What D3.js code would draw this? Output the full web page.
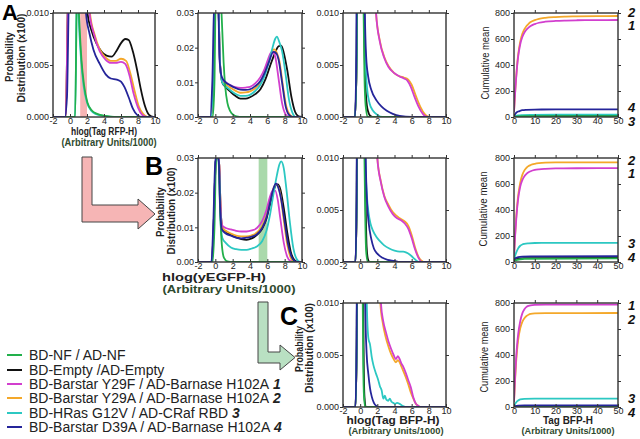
<!DOCTYPE html>
<html><head><meta charset="utf-8">
<script src="https://cdn.jsdelivr.net/npm/d3@7"></script>
<style>body{margin:0;background:#fff}svg{display:block}text{font-family:Arial,"Liberation Sans",sans-serif}</style>
</head><body><svg id="c" width="640" height="439"></svg>
<script>
// ---------- legend / categories ----------
const legendLabels = ["BD-NF / AD-NF", "BD-Empty /AD-Empty", "BD-Barstar Y29F / AD-Barnase H102A", "BD-Barstar Y29A / AD-Barnase H102A", "BD-HRas G12V / AD-CRaf RBD", "BD-Barstar D39A / AD-Barnase H102A"];
const legendTags = ["", "", "1", "2", "3", "4"];
const seriesKeys = ["green", "black", "magenta", "orange", "cyan", "navy"];

// ---------- tick labels ----------
const hlogTicks = [-2, 0, 2, 4, 6, 8, 10];
const prob010Ticks = [0, 0.005, 0.010];
const prob03Ticks = [0, 0.01, 0.02, 0.03];
const meanYTicks = [0, 200, 400, 600, 800];
const meanXTicks = [0, 10, 20, 30, 40, 50];
const bandRFP = [1.2, 2.0];
const bandGFP = [5.0, 6.0];

// ---------- A1: hlog(Tag RFP-H) ----------
const A1_green = [[-2,0],[0.6,0],[0.85,0.014],[1.05,0.0100],[1.35,0.0055],[1.65,0.0031],[2.05,0.0014],[2.6,0.0006],[3.2,0.0003],[4.2,0.0001],[5.2,0],[10,0]];
const A1_black = [[-2,0],[-0.5,0],[-0.2,0.012],[1.8,0.014],[2.05,0.0100],[2.5,0.0084],[3.1,0.0071],[3.7,0.0063],[4.3,0.0059],[4.9,0.0058],[5.5,0.0064],[6.0,0.0071],[6.5,0.0075],[6.9,0.0074],[7.4,0.0063],[7.9,0.0045],[8.3,0.0028],[8.8,0.0011],[9.3,0.0002],[9.8,0],[10,0]];
const A1_magenta = [[-2,0],[-0.5,0],[-0.2,0.012],[2.0,0.014],[2.3,0.0100],[2.8,0.0080],[3.5,0.0063],[4.2,0.0055],[4.8,0.0052],[5.4,0.0052],[6.0,0.0053],[6.5,0.0051],[7.0,0.0040],[7.5,0.0022],[8.0,0.0009],[8.5,0.0002],[9.0,0],[10,0]];
const A1_orange = [[-2,0],[-0.5,0],[-0.2,0.012],[2.0,0.014],[2.35,0.0100],[2.9,0.0079],[3.5,0.0065],[4.2,0.0057],[4.8,0.0054],[5.4,0.0054],[6.0,0.0056],[6.6,0.0054],[7.1,0.0042],[7.6,0.0025],[8.1,0.0010],[8.6,0.0003],[9.1,0],[10,0]];
const A1_cyan = [[-2,0],[0.6,0],[0.85,0.014],[1.0,0.0100],[1.3,0.0055],[1.6,0.0030],[2.0,0.0014],[2.5,0.0006],[3.0,0.0003],[4.0,0.0001],[5.0,0],[10,0]];
const A1_navy = [[-2,0],[-0.6,0],[-0.35,0.002],[-0.1,0.012],[1.6,0.014],[1.88,0.0100],[2.3,0.0080],[2.75,0.0065],[3.5,0.0051],[4.2,0.0041],[4.8,0.0037],[5.5,0.0036],[6.0,0.0034],[6.4,0.0029],[6.9,0.0019],[7.4,0.0008],[7.9,0.0002],[8.5,0],[10,0]];

// ---------- A2: hlog(yEGFP-H) ----------
const A2_green = [[-2,0],[-0.3,0],[-0.1,0.01],[0.05,0.035],[0.6,0.035],[0.75,0.028],[0.95,0.016],[1.15,0.0085],[1.4,0.0040],[1.7,0.0018],[2.1,0.0006],[2.6,0.0001],[3.0,0],[10,0]];
const A2_black = [[-2,0],[-0.5,0],[-0.25,0.01],[0,0.035],[0.3,0.035],[0.55,0.015],[0.8,0.0100],[1.2,0.0086],[1.7,0.0074],[2.3,0.0061],[2.9,0.0053],[3.5,0.0053],[4.0,0.0057],[4.6,0.0066],[5.2,0.0080],[5.8,0.0110],[6.3,0.0146],[6.8,0.0180],[7.3,0.0204],[7.6,0.0206],[7.9,0.0185],[8.3,0.0135],[8.8,0.0055],[9.2,0.0015],[9.6,0.0002],[10,0]];
const A2_magenta = [[-2,0],[-0.5,0],[-0.25,0.01],[0,0.035],[0.3,0.035],[0.55,0.015],[0.8,0.0108],[1.2,0.0100],[1.7,0.0092],[2.3,0.0086],[2.9,0.0084],[3.5,0.0085],[4.0,0.0087],[4.6,0.0097],[5.2,0.0115],[5.7,0.0140],[6.1,0.0168],[6.4,0.0185],[6.6,0.0188],[6.9,0.0175],[7.3,0.0110],[7.7,0.0040],[8.1,0.0008],[8.5,0],[10,0]];
const A2_orange = [[-2,0],[-0.5,0],[-0.25,0.01],[0,0.035],[0.3,0.035],[0.55,0.015],[0.8,0.0104],[1.2,0.0094],[1.7,0.0085],[2.3,0.0076],[2.9,0.0070],[3.5,0.0071],[4.0,0.0074],[4.6,0.0083],[5.2,0.0100],[5.7,0.0128],[6.2,0.0165],[6.6,0.0192],[6.8,0.0195],[7.1,0.0185],[7.4,0.0160],[7.8,0.0090],[8.2,0.0030],[8.6,0.0006],[9.0,0],[10,0]];
const A2_cyan = [[-2,0],[-0.5,0],[-0.25,0.01],[0,0.035],[0.3,0.035],[0.55,0.015],[0.8,0.0100],[1.2,0.0088],[1.7,0.0078],[2.3,0.0067],[2.9,0.0061],[3.5,0.0061],[4.0,0.0064],[4.6,0.0075],[5.2,0.0093],[5.7,0.0120],[6.2,0.0160],[6.6,0.0200],[6.9,0.0225],[7.1,0.0232],[7.4,0.0215],[7.7,0.0190],[8.1,0.0125],[8.5,0.0050],[8.9,0.0012],[9.3,0],[10,0]];
const A2_navy = [[-2,0],[-0.6,0],[-0.35,0.01],[-0.1,0.035],[0.3,0.035],[0.5,0.016],[0.75,0.0115],[1.2,0.0100],[1.7,0.0092],[2.3,0.0084],[2.9,0.0079],[3.5,0.0078],[4.0,0.0080],[4.6,0.0089],[5.2,0.0104],[5.7,0.0128],[6.2,0.0160],[6.7,0.0188],[7.0,0.0185],[7.3,0.0165],[7.7,0.0100],[8.1,0.0032],[8.5,0.0006],[8.9,0],[10,0]];

// ---------- A3: hlog(Tag BFP-H) ----------
const A3_green = [[-2,0],[-0.6,0],[-0.4,0.006],[-0.3,0.03],[0.25,0.03],[0.4,0.0100],[0.5,0.004],[0.65,0.001],[0.9,0],[10,0]];
const A3_black = [[-2,0],[-0.6,0],[-0.4,0.006],[-0.3,0.03],[0.3,0.03],[0.45,0.0100],[0.55,0.005],[0.7,0.0018],[0.9,0.0006],[1.2,0.0001],[1.6,0],[10,0]];
const A3_magenta = [[-2,0],[-0.6,0],[-0.4,0.006],[-0.3,0.03],[1.4,0.03],[1.85,0.0100],[2.3,0.0072],[2.8,0.0057],[3.3,0.0048],[4.0,0.0042],[4.6,0.0039],[5.1,0.0037],[5.5,0.0035],[5.9,0.0029],[6.3,0.0020],[6.8,0.0010],[7.3,0.0003],[7.8,0],[10,0]];
const A3_orange = [[-2,0],[-0.6,0],[-0.4,0.006],[-0.3,0.03],[1.4,0.03],[1.85,0.0100],[2.3,0.0073],[2.8,0.0058],[3.3,0.0049],[4.0,0.0042],[4.6,0.0039],[5.1,0.0038],[5.6,0.0036],[6.0,0.0031],[6.5,0.0020],[7.0,0.0010],[7.5,0.0003],[8.0,0],[10,0]];
const A3_cyan = [[-2,0],[-0.6,0],[-0.4,0.006],[-0.3,0.03],[0.35,0.03],[0.5,0.0100],[0.62,0.0055],[0.8,0.0028],[1.1,0.0013],[1.5,0.0006],[2.0,0.0002],[2.6,0],[10,0]];
const A3_navy = [[-2,0],[-0.6,0],[-0.45,0.006],[-0.35,0.03],[0.4,0.03],[0.55,0.0100],[0.7,0.0058],[0.93,0.0039],[1.3,0.0026],[1.9,0.0016],[2.5,0.0010],[3.1,0.0006],[3.8,0.0003],[4.6,0.0001],[6.0,0],[10,0]];

// ---------- A4: cumulative mean ----------
const A4_green = [[0,1],[2,4],[5,6],[50,6]];
const A4_black = [[0,1],[2,5],[5,7],[50,8]];
const A4_magenta = [[0,40],[0.5,175],[1,290],[1.5,390],[2,465],[3,560],[4,615],[5,650],[6,672],[7,688],[8,700],[10,715],[12,725],[15,733],[20,739],[25,742],[30,744],[40,745],[50,746]];
const A4_orange = [[0,40],[0.5,180],[1,300],[1.5,400],[2,480],[3,580],[4,640],[5,675],[6,700],[7,717],[8,730],[10,745],[12,755],[15,763],[20,769],[25,772],[30,774],[40,776],[50,777]];
const A4_cyan = [[0,2],[1,8],[2,12],[4,15],[8,17],[20,18],[50,18]];
const A4_navy = [[0,5],[0.5,20],[1,32],[2,42],[3,48],[4,52],[6,55],[10,57],[20,58],[50,58]];

// ---------- B2: hlog(yEGFP-H) ----------
const B2_green = [[-2,0],[-0.3,0],[-0.1,0.01],[0.1,0.03],[0.35,0.03],[0.55,0.015],[0.75,0.005],[1.0,0.0012],[1.4,0.0002],[2.0,0],[10,0]];
const B2_black = [[-2,0],[-0.4,0],[-0.2,0.01],[0.05,0.029],[0.25,0.031],[0.45,0.028],[0.6,0.016],[0.8,0.0100],[1.2,0.0088],[1.8,0.0078],[2.4,0.0071],[3.0,0.0066],[3.6,0.0064],[4.2,0.0068],[4.8,0.0078],[5.4,0.0096],[5.9,0.0125],[6.3,0.0165],[6.7,0.0205],[7.0,0.0222],[7.2,0.0224],[7.5,0.0210],[7.9,0.0155],[8.3,0.0085],[8.7,0.0030],[9.1,0.0006],[9.5,0],[10,0]];
const B2_magenta = [[-2,0],[-0.4,0],[-0.2,0.01],[0.05,0.029],[0.25,0.031],[0.45,0.028],[0.6,0.016],[0.8,0.0105],[1.2,0.0098],[1.8,0.0094],[2.4,0.0090],[3.0,0.0088],[3.6,0.0088],[4.2,0.0091],[4.8,0.0098],[5.4,0.0118],[5.9,0.0150],[6.3,0.0188],[6.6,0.0205],[6.9,0.0206],[7.2,0.0180],[7.5,0.0125],[7.9,0.0055],[8.3,0.0015],[8.7,0.0002],[9.1,0],[10,0]];
const B2_orange = [[-2,0],[-0.4,0],[-0.2,0.01],[0.05,0.029],[0.25,0.031],[0.45,0.028],[0.6,0.016],[0.8,0.0100],[1.2,0.0090],[1.8,0.0082],[2.4,0.0076],[3.0,0.0074],[3.6,0.0074],[4.2,0.0077],[4.8,0.0085],[5.4,0.0104],[5.9,0.0135],[6.3,0.0175],[6.7,0.0212],[7.0,0.0224],[7.2,0.0220],[7.5,0.0195],[7.9,0.0120],[8.3,0.0050],[8.7,0.0012],[9.1,0],[10,0]];
const B2_cyan = [[-2,0],[-0.4,0],[-0.2,0.01],[0.05,0.029],[0.25,0.031],[0.45,0.026],[0.6,0.012],[0.8,0.0070],[1.2,0.0055],[1.8,0.0042],[2.4,0.0037],[3.0,0.0035],[3.6,0.0035],[4.2,0.0039],[4.8,0.0045],[5.4,0.0060],[5.9,0.0090],[6.3,0.0135],[6.7,0.0195],[7.1,0.0250],[7.4,0.0282],[7.6,0.0290],[7.9,0.0270],[8.2,0.0210],[8.6,0.0115],[9.0,0.0040],[9.4,0.0008],[9.8,0],[10,0]];
const B2_navy = [[-2,0],[-0.45,0],[-0.25,0.01],[0.0,0.029],[0.2,0.031],[0.4,0.029],[0.55,0.016],[0.75,0.0095],[1.2,0.0082],[1.8,0.0076],[2.4,0.0070],[3.0,0.0068],[3.6,0.0070],[4.2,0.0073],[4.8,0.0080],[5.4,0.0098],[5.9,0.0128],[6.3,0.0170],[6.7,0.0212],[7.0,0.0226],[7.3,0.0212],[7.6,0.0180],[8.0,0.0115],[8.4,0.0050],[8.8,0.0015],[9.2,0.0002],[9.6,0],[10,0]];

// ---------- B3: hlog(Tag BFP-H) ----------
const B3_green = [[-2,0],[-0.55,0],[-0.4,0.006],[-0.3,0.03],[0.3,0.03],[0.5,0.0100],[0.6,0.004],[0.7,0.001],[0.9,0],[10,0]];
const B3_black = [[-2,0],[-0.55,0],[-0.4,0.006],[-0.3,0.03],[0.35,0.03],[0.55,0.0100],[0.65,0.005],[0.75,0.0015],[0.9,0.0003],[1.1,0],[10,0]];
const B3_magenta = [[-2,0],[-0.55,0],[-0.4,0.006],[-0.3,0.03],[1.6,0.03],[2.0,0.0100],[2.4,0.0077],[2.8,0.0063],[3.3,0.0053],[3.8,0.0046],[4.3,0.0042],[4.8,0.0040],[5.2,0.0037],[5.6,0.0032],[6.0,0.0023],[6.4,0.0012],[6.8,0.0004],[7.2,0],[10,0]];
const B3_orange = [[-2,0],[-0.55,0],[-0.4,0.006],[-0.3,0.03],[1.6,0.03],[2.0,0.0100],[2.4,0.0078],[2.8,0.0064],[3.3,0.0055],[3.8,0.0048],[4.3,0.0044],[4.8,0.0041],[5.2,0.0039],[5.6,0.0035],[6.0,0.0026],[6.4,0.0014],[6.8,0.0005],[7.2,0.0001],[7.5,0],[10,0]];
const B3_cyan = [[-2,0],[-0.55,0],[-0.4,0.006],[-0.3,0.03],[0.45,0.03],[0.6,0.0100],[0.8,0.0062],[1.0,0.0046],[1.2,0.0037],[1.5,0.0030],[1.9,0.0024],[2.3,0.0020],[2.8,0.0016],[3.4,0.0013],[4.0,0.0011],[4.6,0.0010],[5.0,0.0010],[5.4,0.0009],[5.8,0.0007],[6.2,0.0004],[6.6,0.0001],[7.0,0],[10,0]];
const B3_navy = [[-2,0],[-0.55,0],[-0.42,0.006],[-0.32,0.03],[0.45,0.03],[0.65,0.0100],[0.8,0.0058],[1.0,0.0037],[1.3,0.0022],[1.6,0.0013],[2.0,0.0008],[2.6,0.0004],[3.2,0.0002],[4.0,0.0001],[4.6,0],[10,0]];

// ---------- B4: cumulative mean ----------
const B4_green = [[0,10],[5,25],[50,28]];
const B4_black = [[0,15],[2,25],[5,30],[50,32]];
const B4_magenta = [[0,40],[0.5,190],[1,310],[1.5,410],[2,485],[3,580],[4,630],[5,660],[6,678],[7,690],[8,698],[10,708],[12,713],[15,717],[20,720],[30,721],[50,722]];
const B4_orange = [[0,40],[0.5,200],[1,330],[1.5,430],[2,510],[3,610],[4,670],[5,705],[6,725],[7,738],[8,746],[10,755],[12,760],[15,764],[20,766],[30,767],[50,767]];
const B4_cyan = [[0,20],[1,70],[2,105],[3,125],[4,135],[5,140],[7,144],[10,146],[20,147],[50,147]];
const B4_navy = [[0,20],[1,32],[2,38],[4,42],[8,44],[50,45]];

// ---------- C3: hlog(Tag BFP-H) ----------
const C3_green = [[-2,0],[-0.55,0],[-0.4,0.006],[-0.3,0.03],[0.2,0.03],[0.3,0.0100],[0.36,0.004],[0.45,0.001],[0.6,0],[10,0]];
const C3_black = [[-2,0],[-0.55,0],[-0.4,0.006],[-0.3,0.03],[0.25,0.03],[0.35,0.0100],[0.42,0.004],[0.5,0.001],[0.65,0],[10,0]];
const C3_magenta = [[-2,0],[-0.55,0],[-0.4,0.006],[-0.3,0.03],[2.0,0.03],[2.42,0.0100],[2.7,0.0082],[3.0,0.0072],[3.3,0.0063],[3.6,0.0056],[3.9,0.0050],[4.15,0.0046],[4.4,0.0049],[4.6,0.0046],[4.8,0.0042],[5.0,0.0039],[5.3,0.0033],[5.6,0.0026],[5.9,0.0019],[6.2,0.0009],[6.5,0.0003],[6.8,0.0001],[7.0,0],[10,0]];
const C3_orange = [[-2,0],[-0.55,0],[-0.4,0.006],[-0.3,0.03],[2.0,0.03],[2.35,0.0100],[2.65,0.0080],[2.95,0.0068],[3.3,0.0058],[3.6,0.0051],[3.9,0.0046],[4.15,0.0043],[4.4,0.0045],[4.6,0.0043],[4.8,0.0039],[5.0,0.0035],[5.3,0.0029],[5.6,0.0022],[5.9,0.0014],[6.2,0.0008],[6.5,0.0003],[6.8,0.0001],[7.0,0],[10,0]];
const C3_cyan = [[-2,0],[-0.55,0],[-0.4,0.006],[-0.3,0.03],[0.6,0.03],[0.77,0.0100],[0.96,0.0066],[1.15,0.0060],[1.35,0.0048],[1.55,0.0040],[1.85,0.0032],[2.1,0.0026],[2.3,0.0020],[2.5,0.0016],[2.7,0.0008],[2.88,0.0011],[3.05,0.0007],[3.27,0.0006],[3.45,0.0008],[3.65,0.0005],[3.85,0.0004],[4.05,0.0003],[4.3,0.0004],[4.6,0.0003],[5.0,0.0001],[5.4,0],[10,0]];
const C3_navy = [[-2,0],[-0.55,0],[-0.42,0.006],[-0.32,0.03],[0.4,0.03],[0.58,0.0100],[0.75,0.0052],[0.95,0.0032],[1.15,0.0018],[1.35,0.0010],[1.6,0.0004],[1.9,0.0001],[2.3,0],[10,0]];

// ---------- C4: cumulative mean ----------
const C4_green = [[0,2],[5,4],[50,4]];
const C4_black = [[0,2],[5,5],[50,5]];
const C4_magenta = [[0,40],[0.5,220],[1,370],[1.5,480],[2,560],[3,660],[4,720],[5,752],[6,770],[7,778],[8,782],[10,785],[15,787],[50,787]];
const C4_orange = [[0,40],[0.5,200],[1,340],[1.5,440],[2,515],[3,605],[4,655],[5,683],[6,700],[7,710],[8,716],[10,720],[15,722],[50,723]];
const C4_cyan = [[0,10],[1,35],[2,50],[3,58],[5,63],[10,65],[50,65]];
const C4_navy = [[0,5],[2,10],[5,12],[50,13]];

// ---------- styling ----------
const colors = {green:"#22b04b", black:"#111111", magenta:"#d23fce", orange:"#f4a82a", cyan:"#2cc8c2", navy:"#25259a"};
const drawOrder = ["black","orange","magenta","cyan","green","navy"];

const svg = d3.select("#c");
svg.append("rect").attr("width",640).attr("height",439).attr("fill","#fff");

const f3 = d3.format(".3f"), f2 = d3.format(".2f"), fd = d3.format("d");
const fx = d => (d < 0 ? "-" + (-d) : String(d));

let clipId = 0;
function panel(cfg) {
  const x = d3.scaleLinear().domain(cfg.xdom).range([cfg.x0, cfg.x1]);
  const y = d3.scaleLinear().domain(cfg.ydom).range([cfg.y1, cfg.y0]);
  const g = svg.append("g");
  const id = "clip" + (clipId++);
  g.append("clipPath").attr("id", id).append("rect")
    .attr("x", cfg.x0).attr("y", cfg.y0).attr("width", cfg.x1 - cfg.x0).attr("height", cfg.y1 - cfg.y0);
  const plot = g.append("g").attr("clip-path", `url(#${id})`);
  if (cfg.band) {
    plot.append("rect").attr("x", x(cfg.band[0])).attr("width", x(cfg.band[1]) - x(cfg.band[0]))
      .attr("y", cfg.y0).attr("height", cfg.y1 - cfg.y0).attr("fill", cfg.bandColor);
  }
  const line = d3.line().x(d => x(d[0])).y(d => y(d[1])).curve(d3.curveMonotoneX);
  drawOrder.forEach(k => {
    plot.append("path").attr("d", line(cfg.series[k])).attr("fill","none")
      .attr("stroke", colors[k]).attr("stroke-width", 1.8).attr("stroke-linejoin","round");
  });
  const styleAxis = sel => {
    sel.select(".domain").remove();
    sel.selectAll(".tick line").attr("stroke","#333").attr("stroke-width",1);
    sel.selectAll("text").attr("font-size","9px").attr("fill","#222").attr("font-family","Arial, 'Liberation Sans', sans-serif");
  };
  g.append("g").attr("transform",`translate(0,${cfg.y1})`)
    .call(d3.axisBottom(x).tickValues(cfg.xticks).tickFormat(fx).tickSize(-3).tickPadding(1)).call(styleAxis);
  g.append("g").attr("transform",`translate(0,${cfg.y0})`)
    .call(d3.axisTop(x).tickValues(cfg.xticks).tickFormat(() => "").tickSize(3)).call(styleAxis);
  g.append("g").attr("transform",`translate(${cfg.x0},0)`)
    .call(d3.axisLeft(y).tickValues(cfg.yticks).tickFormat(cfg.yfmt).tickSize(3).tickPadding(1)).call(styleAxis);
  g.append("g").attr("transform",`translate(${cfg.x1},0)`)
    .call(d3.axisRight(y).tickValues(cfg.yticks).tickFormat(() => "").tickSize(3)).call(styleAxis);
  g.append("rect").attr("x", cfg.x0).attr("y", cfg.y0).attr("width", cfg.x1 - cfg.x0).attr("height", cfg.y1 - cfg.y0)
    .attr("fill","none").attr("stroke","#333").attr("stroke-width",1.4);
}

const col = [[53,155],[198,302],[343,446],[514,618]];
const row = [[13,117],[158,262],[303,407]];
const S = {
  A1:{green:A1_green,black:A1_black,magenta:A1_magenta,orange:A1_orange,cyan:A1_cyan,navy:A1_navy},
  A2:{green:A2_green,black:A2_black,magenta:A2_magenta,orange:A2_orange,cyan:A2_cyan,navy:A2_navy},
  A3:{green:A3_green,black:A3_black,magenta:A3_magenta,orange:A3_orange,cyan:A3_cyan,navy:A3_navy},
  A4:{green:A4_green,black:A4_black,magenta:A4_magenta,orange:A4_orange,cyan:A4_cyan,navy:A4_navy},
  B2:{green:B2_green,black:B2_black,magenta:B2_magenta,orange:B2_orange,cyan:B2_cyan,navy:B2_navy},
  B3:{green:B3_green,black:B3_black,magenta:B3_magenta,orange:B3_orange,cyan:B3_cyan,navy:B3_navy},
  B4:{green:B4_green,black:B4_black,magenta:B4_magenta,orange:B4_orange,cyan:B4_cyan,navy:B4_navy},
  C3:{green:C3_green,black:C3_black,magenta:C3_magenta,orange:C3_orange,cyan:C3_cyan,navy:C3_navy},
  C4:{green:C4_green,black:C4_black,magenta:C4_magenta,orange:C4_orange,cyan:C4_cyan,navy:C4_navy}
};
const hl = (c, r, key, ydom, yt, yf, extra) => Object.assign({x0:col[c][0], x1:col[c][1], y0:row[r][0], y1:row[r][1], xdom:[-2,10], ydom, xticks:hlogTicks, yticks:yt, yfmt:yf, series:S[key]}, extra || {});
const cm = (r, key) => ({x0:col[3][0], x1:col[3][1], y0:row[r][0], y1:row[r][1], xdom:[0,50], ydom:[0,800], xticks:meanXTicks, yticks:meanYTicks, yfmt:fd, series:S[key]});

panel(hl(0,0,"A1",[0,0.010],prob010Ticks,f3,{band:bandRFP, bandColor:"#f7b4b4"}));
panel(hl(1,0,"A2",[0,0.03],prob03Ticks,f2));
panel(hl(2,0,"A3",[0,0.010],prob010Ticks,f3));
panel(cm(0,"A4"));
panel(hl(1,1,"B2",[0,0.03],prob03Ticks,f2,{band:bandGFP, bandColor:"#aad9ab"}));
panel(hl(2,1,"B3",[0,0.010],prob010Ticks,f3));
panel(cm(1,"B4"));
panel(hl(2,2,"C3",[0,0.010],prob010Ticks,f3));
panel(cm(2,"C4"));

// ---------- titles ----------
function htext(txt, cx, by, len, size, weight, fill) {
  svg.append("text").attr("x", cx).attr("y", by).attr("text-anchor","middle")
    .attr("font-size", size + "px").attr("font-weight", weight).attr("fill", fill)
    .attr("textLength", len).attr("lengthAdjust","spacingAndGlyphs").text(txt);
}
function vtext(txt, bx, cy, len, size, weight, fill) {
  svg.append("text").attr("transform", `translate(${bx},${cy}) rotate(-90)`).attr("text-anchor","middle")
    .attr("font-size", size + "px").attr("font-weight", weight).attr("fill", fill)
    .attr("textLength", len).attr("lengthAdjust","spacingAndGlyphs").text(txt);
}
const tc = "#222", uc = "#2e4a2e";
htext("hlog(Tag RFP-H)", 104, 135, 66, 10, "bold", tc);
htext("(Arbitrary Units/1000)", 109, 146, 95, 10, "bold", uc);
vtext("Probability", 13, 57, 50, 10, "bold", tc);
vtext("Distribution (x100)", 25, 58, 89, 10, "bold", tc);

htext("hlog(yEGFP-H)", 214, 281, 104, 11, "bold", tc);
htext("(Arbitrary Units/1000)", 229, 293, 133, 11, "bold", uc);
vtext("Probability", 164, 212, 50, 10, "bold", tc);
vtext("Distribution (x100)", 175, 211, 87, 10, "bold", tc);

htext("hlog(Tag BFP-H)", 393, 424, 93, 10, "bold", tc);
htext("(Arbitrary Units/1000)", 396, 434, 95, 9.5, "bold", uc);
vtext("Probability", 303, 349, 46, 10, "bold", tc);
vtext("Distribution (x100)", 313, 348, 90, 10, "bold", tc);

vtext("Cumulative mean", 489, 63, 73, 10, "normal", tc);
vtext("Cumulative mean", 487, 209, 75, 10, "normal", tc);
vtext("Cumulative mean", 488, 357, 71, 10, "normal", tc);
htext("Tag BFP-H", 568, 424, 50, 10, "bold", tc);
htext("(Arbitrary Units/1000)", 568, 434, 93, 9.5, "bold", uc);

// series number tags at right of cumulative panels
const tagRows = [
  [["2",17],["1",30],["4",112],["3",126]],
  [["2",165],["1",178],["3",248],["4",262]],
  [["1",310],["2",324],["3",403],["4",417]]
];
tagRows.flat().forEach(([t, yb]) => {
  svg.append("text").attr("x", 628).attr("y", yb).attr("font-size","13px").attr("font-weight","bold")
    .attr("font-style","italic").attr("fill","#111").text(t);
});

// panel letters
[["A",2,20,22],["B",145,175,25],["C",280,325,25]].forEach(([t,x,yb,s]) => {
  svg.append("text").attr("x",x).attr("y",yb).attr("font-size",s+"px").attr("font-weight","bold").attr("fill","#000").text(t);
});

// arrows
svg.append("path").attr("d","M82,157 L92,157 L92,205 L138,205 L138,199 L155,214 L138,229 L138,222 L82,222 Z")
  .attr("fill","#f6b5b5").attr("stroke","#444").attr("stroke-width",1);
svg.append("path").attr("d","M258,302 L268,302 L268,352 L280,352 L280,345 L295,357.5 L280,370 L280,363 L258,363 Z")
  .attr("fill","#b9e0c2").attr("stroke","#444").attr("stroke-width",1);

// legend
const legendY = [355, 370, 384, 398, 413, 427];
legendLabels.forEach((lab, i) => {
  const yy = legendY[i];
  svg.append("line").attr("x1",7).attr("x2",22).attr("y1",yy).attr("y2",yy)
    .attr("stroke", colors[seriesKeys[i]]).attr("stroke-width",2);
  const t = svg.append("text").attr("x",29).attr("y",yy+5).attr("font-size","14px").attr("fill","#222");
  t.append("tspan").text(lab);
  if (legendTags[i]) t.append("tspan").attr("font-weight","bold").attr("font-style","italic").text(" " + legendTags[i]);
});
</script></body></html>
